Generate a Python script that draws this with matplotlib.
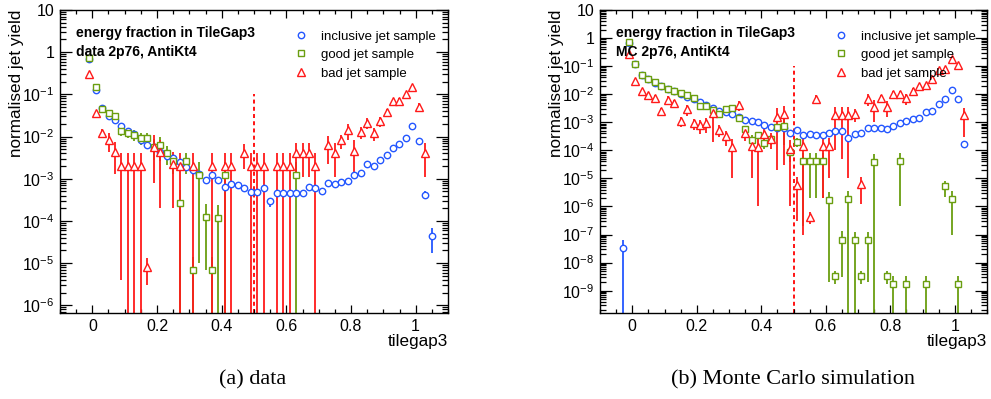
import numpy as np
import matplotlib
matplotlib.use('Agg')
import matplotlib.pyplot as plt
from matplotlib.ticker import LogLocator, FuncFormatter, MultipleLocator, NullFormatter
from matplotlib.lines import Line2D

plt.rcParams['font.family'] = ['Liberation Sans', 'DejaVu Sans']
plt.rcParams['mathtext.fontset'] = 'custom'
plt.rcParams['mathtext.rm'] = 'Liberation Sans'
plt.rcParams['mathtext.it'] = 'Liberation Sans:italic'
plt.rcParams['mathtext.bf'] = 'Liberation Sans:bold'

# ---------------- (a) data ----------------
a_incl_x = [-0.01, 0.01, 0.03, 0.05, 0.07, 0.09, 0.11, 0.13, 0.15, 0.17,
            0.19, 0.21, 0.23, 0.25, 0.27, 0.29, 0.31, 0.33, 0.35, 0.37,
            0.39, 0.41, 0.43, 0.45, 0.47, 0.49, 0.51, 0.53, 0.55, 0.57,
            0.59, 0.61, 0.63, 0.65, 0.67, 0.69, 0.71, 0.73, 0.75, 0.77,
            0.79, 0.81, 0.83, 0.85, 0.87, 0.89, 0.91, 0.93, 0.95, 0.97,
            0.99, 1.01, 1.03, 1.05]
a_incl_y = [0.68, 0.128, 0.048, 0.031, 0.025, 0.018, 0.0137, 0.0116, 0.0084, 0.0063,
            0.0057, 0.0042, 0.0034, 0.0031, 0.0025, 0.0019, 0.0016, 0.0013, 0.00094, 0.0012,
            0.00094, 0.00064, 0.00074, 0.0007, 0.0006, 0.00049, 0.00049, 0.00061, 0.00029, 0.00046,
            0.00046, 0.00046, 0.00046, 0.00046, 0.00064, 0.00061, 0.00052, 0.00079, 0.00076, 0.00085,
            0.00089, 0.00124, 0.00138, 0.0022, 0.0020, 0.0028, 0.0037, 0.0054, 0.0067, 0.0093,
            0.018, 0.0079, 0.00042, 0.000043]
a_incl_err = [0.01, 0.003, 0.0015, 0.001, 0.0008, 0.0007, 0.0006, 0.0005, 0.0004, 0.0004,
              0.0004, 0.0003, 0.0003, 0.0003, 0.0002, 0.0002, 0.0002, 0.0002, 0.00012, 0.00014,
              0.00012, 0.0001, 0.0001, 0.0001, 0.0001, 0.00008, 0.00008, 0.0001, 0.00007, 0.00008,
              0.00008, 0.00008, 0.00008, 0.00008, 0.0001, 0.0001, 0.00009, 0.0001, 0.0001, 0.0001,
              0.0001, 0.00013, 0.00014, 0.0002, 0.0002, 0.00024, 0.0003, 0.0004, 0.0004, 0.0005,
              0.0008, 0.0006, 0.00008, 0.000026]

a_good_x = [-0.01, 0.01, 0.03, 0.05, 0.07, 0.09, 0.11, 0.13, 0.15, 0.17,
            0.19, 0.21, 0.23, 0.25, 0.27, 0.29, 0.31, 0.33, 0.35, 0.37,
            0.39, 0.41, 0.63]
a_good_y = [0.72, 0.147, 0.045, 0.036, 0.030, 0.0137, 0.0124, 0.011, 0.0092, 0.0092,
            0.0058, 0.0063, 0.0041, 0.0026, 0.00027, 0.0027, 6.9e-6, 0.00124, 0.000127, 6.9e-6,
            0.00012, 0.00124, 0.00124]
a_good_err = [0.03, 0.01, 0.004, 0.003, 0.003, 0.0035, 0.003, 0.003, 0.003, 0.003,
              0.003, 0.0037, 0.002, 0.0013, 0.00027, 0.0014, 6.9e-6, 0.00123, 0.00012, 6.9e-6,
              0.00012, 0.00124, 0.00124]

a_bad_x = [-0.01, 0.01, 0.03, 0.05, 0.07, 0.09, 0.11, 0.13, 0.15, 0.17,
           0.19, 0.21, 0.25, 0.27, 0.31, 0.37, 0.41, 0.43, 0.47, 0.49,
           0.51, 0.53, 0.57, 0.59, 0.61, 0.63, 0.65, 0.67, 0.69, 0.73,
           0.75, 0.77, 0.79, 0.81, 0.83, 0.85, 0.87, 0.89, 0.91, 0.93,
           0.95, 0.97, 0.99, 1.01, 1.03]
a_bad_y = [0.31, 0.036, 0.0125, 0.0084, 0.0043, 0.002, 0.002, 0.002, 0.002, 8.1e-6,
           0.0058, 0.0042, 0.0023, 0.002, 0.002, 0.002, 0.002, 0.002, 0.0041, 0.002,
           0.002, 0.002, 0.002, 0.002, 0.002, 0.0041, 0.0041, 0.0041, 0.002, 0.0062,
           0.0041, 0.0081, 0.0144, 0.0046, 0.0126, 0.021, 0.012, 0.023, 0.039, 0.068,
           0.071, 0.103, 0.148, 0.051, 0.0041]
a_bad_err = [0.02, 0.005, 0.003, 0.004, 0.003, 0.001996, 0.002, 0.002, 0.002, 5e-6,
             0.005, 0.004, 0.0021, 0.002, 0.002, 0.002, 0.002, 0.002, 0.0024, 0.002,
             0.002, 0.002, 0.002, 0.002, 0.002, 0.003, 0.003, 0.003, 0.002, 0.004,
             0.003, 0.003, 0.006, 0.0035, 0.004, 0.006, 0.004, 0.006, 0.007, 0.009,
             0.009, 0.012, 0.015, 0.01, 0.003]

# ---------------- (b) Monte Carlo ----------------
b_incl_x = [-0.03, -0.01, 0.01, 0.03, 0.05, 0.07, 0.09, 0.11, 0.13, 0.15,
            0.17, 0.19, 0.21, 0.23, 0.25, 0.27, 0.29, 0.31, 0.33, 0.35,
            0.37, 0.39, 0.41, 0.43, 0.45, 0.47, 0.49, 0.51, 0.53, 0.55,
            0.57, 0.59, 0.61, 0.63, 0.65, 0.67, 0.69, 0.71, 0.73, 0.75,
            0.77, 0.79, 0.81, 0.83, 0.85, 0.87, 0.89, 0.91, 0.93, 0.95,
            0.97, 0.99, 1.01, 1.03]
b_incl_y = [3.2e-8, 0.66, 0.12, 0.047, 0.034, 0.025, 0.019, 0.0158, 0.013, 0.0105,
            0.0079, 0.0069, 0.0052, 0.0040, 0.0033, 0.0026, 0.0023, 0.0019, 0.00155, 0.00122,
            0.00107, 0.00102, 0.00078, 0.00068, 0.00065, 0.00065, 0.00042, 0.00052, 0.00036, 0.00039,
            0.00036, 0.00034, 0.00042, 0.00048, 0.00048, 0.00028, 0.00037, 0.00043, 0.00062, 0.00064,
            0.00064, 0.00059, 0.00073, 0.00097, 0.0011, 0.00135, 0.0014, 0.0023, 0.0026, 0.0046,
            0.0065, 0.0137, 0.0069, 0.00017]
b_incl_err = [3.2e-8, 0.005, 0.001, 0.0005, 0.0004, 0.0003, 0.0002, 0.0002, 0.0002, 0.0002,
              0.0001, 0.0001, 0.0001, 0.0001, 0.00008, 0.00006, 0.00005, 0.00005, 0.00004, 0.00003,
              0.00003, 0.00003, 0.00002, 0.00002, 0.00002, 0.00002, 0.00002, 0.00002, 0.00002, 0.00002,
              0.00002, 0.00002, 0.00002, 0.00002, 0.00002, 0.00002, 0.00002, 0.00002, 0.00002, 0.00002,
              0.00002, 0.00002, 0.00002, 0.00003, 0.00003, 0.00004, 0.00004, 0.00006, 0.00006, 0.0001,
              0.00015, 0.0003, 0.0002, 0.00002]

b_good_x = [-0.01, 0.01, 0.03, 0.05, 0.07, 0.09, 0.11, 0.13, 0.15, 0.17,
            0.19, 0.21, 0.23, 0.25, 0.27, 0.29, 0.31, 0.33, 0.35, 0.37,
            0.39, 0.41, 0.43, 0.45, 0.47, 0.49, 0.51, 0.53, 0.55, 0.57,
            0.59, 0.61, 0.63, 0.65, 0.67, 0.69, 0.71, 0.73, 0.75, 0.79,
            0.81, 0.83, 0.85, 0.91, 0.97, 0.99, 1.01]
b_good_y = [0.71, 0.12, 0.047, 0.035, 0.027, 0.020, 0.0158, 0.013, 0.011, 0.0093,
            0.0075, 0.0037, 0.0038, 0.0028, 0.0019, 0.0030, 0.0032, 0.0014, 0.00059, 0.00024,
            0.00036, 0.00019, 0.00026, 0.00066, 0.00071, 8.7e-5, 0.0002, 4.1e-5, 4.1e-5, 4.1e-5,
            4.1e-5, 1.7e-6, 3.4e-9, 6.6e-8, 1.8e-6, 6.4e-8, 3.4e-9, 6.4e-8, 3.8e-5, 3.4e-9,
            1.7e-9, 4.2e-5, 1.7e-9, 1.7e-9, 5.2e-6, 1.8e-6, 1.7e-9]
b_good_err = [0.015, 0.003, 0.001, 0.0008, 0.0007, 0.0006, 0.0005, 0.0005, 0.0005, 0.0005,
              0.0005, 0.0004, 0.0005, 0.0005, 0.0005, 0.0008, 0.0008, 0.0003, 0.00015, 0.00012,
              0.0001, 0.00008, 0.0001, 0.0002, 0.00055, 5e-5, 7e-5, 4.08e-5, 3.9e-5, 3.9e-5,
              3.9e-5, 1.698e-6, 1.7e-9, 6.3e-8, 1.8e-6, 6.4e-8, 1.7e-9, 6.2e-8, 3.8e-5, 1.7e-9,
              1.7e-9, 4.1e-5, 1.7e-9, 1.7e-9, 3e-6, 1.7e-6, 1.7e-9]

b_bad_x = [-0.01, 0.01, 0.03, 0.05, 0.07, 0.09, 0.11, 0.13, 0.15, 0.17,
           0.19, 0.21, 0.23, 0.25, 0.27, 0.29, 0.31, 0.33, 0.35, 0.37,
           0.39, 0.41, 0.43, 0.45, 0.47, 0.49, 0.51, 0.53, 0.55, 0.57,
           0.59, 0.61, 0.63, 0.65, 0.67, 0.69, 0.71, 0.73, 0.75, 0.77,
           0.79, 0.81, 0.83, 0.85, 0.87, 0.89, 0.91, 0.93, 0.95, 0.97,
           0.99, 1.01, 1.03]
b_bad_y = [0.28, 0.029, 0.013, 0.0091, 0.0076, 0.0025, 0.0063, 0.0048, 0.0011, 0.0029,
           0.00093, 0.00077, 0.00093, 0.0021, 0.00055, 0.00032, 0.00013, 0.0040, 0.00042, 0.00014,
           0.00013, 0.00039, 0.00026, 0.0016, 0.0019, 0.000115, 5.6e-6, 0.00014, 4.3e-7, 0.0069,
           0.00014, 0.00014, 0.0018, 0.0018, 0.0018, 0.0020, 6.2e-6, 0.0069, 0.0035, 0.0072,
           0.0035, 0.0104, 0.0104, 0.0072, 0.013, 0.019, 0.022, 0.036, 0.070, 0.081,
           0.18, 0.106, 0.0018]
b_bad_err = [0.02, 0.004, 0.002, 0.002, 0.002, 0.0007, 0.002, 0.0015, 0.0004, 0.0012,
             0.0004, 0.0004, 0.0005, 0.0019, 0.00025, 0.00018, 0.00012, 0.0015, 0.0002, 0.00013,
             0.000129, 0.00025, 0.00015, 0.00158, 0.00187, 0.000114, 5.3e-6, 0.0001399, 2e-7, 0.0025,
             0.000138, 0.00013, 0.0017, 0.00175, 0.00179, 0.001, 5e-6, 0.003, 0.0025, 0.0025,
             0.002, 0.003, 0.003, 0.003, 0.003, 0.003, 0.003, 0.005, 0.008, 0.01,
             0.02, 0.015, 0.0015]

labels = ['inclusive jet sample', 'good jet sample', 'bad jet sample']
blue, green, red = '#2457ff', '#6a9e10', '#ff1a1a'
styles = [dict(marker='o', ms=4.6, color=blue),
          dict(marker='s', ms=5.0, color=green),
          dict(marker='^', ms=5.4, color=red)]


def log_label(v, pos):
    e = int(round(np.log10(v)))
    if e == 0:
        return '1'
    if e == 1:
        return '10'
    return r'$\mathregular{10^{%d}}$' % e


def draw_panel(ax, series, ymin, tag):
    ax.set_yscale('log', nonpositive='clip')
    ax.set_xlim(-0.1, 1.1)
    ax.set_ylim(ymin, 10)
    # dashed cut at 0.5
    ax.vlines(0.5, ymin, 0.1, colors='red', linestyles=(0, (2.2, 1.8)), lw=1.3, zorder=1)
    for (x, y, e), st in zip(series, styles):
        ax.errorbar(x, y, yerr=e, fmt=st['marker'], ms=st['ms'], color=st['color'],
                    mfc='white', mec=st['color'], mew=1.0, elinewidth=1.3, capsize=0, zorder=2)

    ax.xaxis.set_major_locator(MultipleLocator(0.2))
    ax.xaxis.set_minor_locator(MultipleLocator(0.05))
    ax.xaxis.set_major_formatter(FuncFormatter(lambda v, p: '%g' % (round(v, 2) + 0.0)))
    ax.yaxis.set_major_locator(LogLocator(base=10, numticks=30))
    ax.yaxis.set_minor_locator(LogLocator(base=10, subs=np.arange(2, 10), numticks=30))
    ax.yaxis.set_major_formatter(FuncFormatter(log_label))
    ax.yaxis.set_minor_formatter(NullFormatter())
    ax.tick_params(which='both', direction='in', top=True, right=True, labelsize=11.5, width=0.9)
    ax.tick_params(axis='x', which='major', length=5.5, pad=4)
    ax.tick_params(axis='x', which='minor', length=3)
    ax.tick_params(axis='y', which='major', length=8.5, pad=4)
    ax.tick_params(axis='y', which='minor', length=4.3)
    for s in ax.spines.values():
        s.set_linewidth(1.0)

    ax.text(0.041, 0.924, 'energy fraction in TileGap3', transform=ax.transAxes,
            fontsize=10, fontweight='bold', va='center')
    ax.text(0.041, 0.861, tag, transform=ax.transAxes,
            fontsize=10, fontweight='bold', va='center')
    ax.text(1.0, -0.094, 'tilegap3', transform=ax.transAxes, ha='right', va='center', fontsize=12.3)

    handles = [Line2D([], [], ls='none', marker=st['marker'], ms=st['ms'], mfc='white',
                      mec=st['color'], mew=1.0) for st in styles]
    ax.legend(handles, labels, loc='upper left', bbox_to_anchor=(0.605, 0.933), frameon=False,
              fontsize=9.5, handlelength=1.0, handletextpad=1.0, labelspacing=0.48,
              borderpad=0, borderaxespad=0)


fig = plt.figure(figsize=(9.91, 3.99), dpi=100)
ax_a = fig.add_axes([60 / 991, 86 / 399, 388 / 991, 303 / 399])
ax_b = fig.add_axes([600 / 991, 86 / 399, 387 / 991, 303 / 399])

draw_panel(ax_a, [(a_incl_x, a_incl_y, a_incl_err),
                  (a_good_x, a_good_y, a_good_err),
                  (a_bad_x, a_bad_y, a_bad_err)], 6.6e-7, 'data 2p76, AntiKt4')
draw_panel(ax_b, [(b_incl_x, b_incl_y, b_incl_err),
                  (b_good_x, b_good_y, b_good_err),
                  (b_bad_x, b_bad_y, b_bad_err)], 1.6e-10, 'MC 2p76, AntiKt4')

fig.text(17 / 991, 1 - 10 / 399, 'normalised jet yield', rotation=90, ha='center', va='top', fontsize=12.3)
fig.text(556 / 991, 1 - 10 / 399, 'normalised jet yield', rotation=90, ha='center', va='top', fontsize=12.3)

fig.text(253 / 991, 1 - 380 / 399, '(a) data', ha='center', va='center',
         family='Liberation Serif', fontsize=16)
fig.text(793 / 991, 1 - 380 / 399, '(b) Monte Carlo simulation', ha='center', va='center',
         family='Liberation Serif', fontsize=16)

fig.savefig('out.png', dpi=100)
